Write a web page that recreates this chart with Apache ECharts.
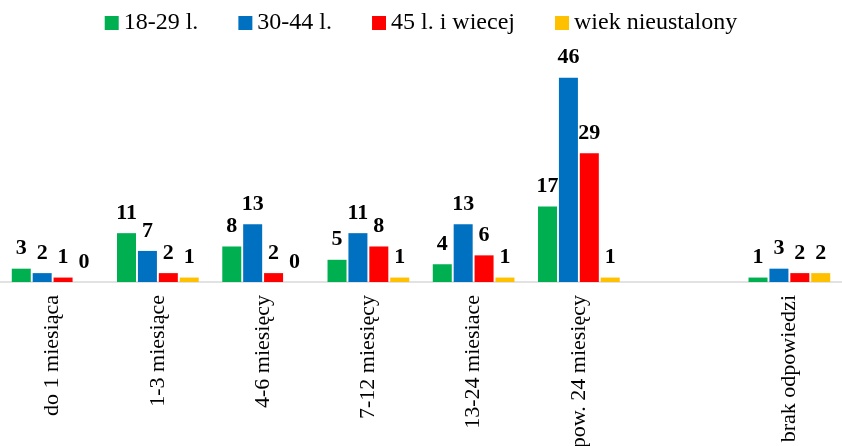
<!DOCTYPE html>
<html>
<head>
<meta charset="utf-8">
<script src="https://cdn.jsdelivr.net/npm/echarts@6/dist/echarts.min.js"></script>
<style>
	html, body { margin: 0; padding: 0; background: #fff; }
	#chartmain { width: 842px; height: 446px; }
</style>
</head>
<body>
<div id="chartmain"></div>
<script>
var categories = ['do 1 miesiąca', '1-3 miesiące', '4-6 miesięcy', '7-12 miesięcy', '13-24 miesiace', 'pow. 24 miesięcy', '', 'brak odpowiedzi'];
var names = ['18-29 l.', '30-44 l.', '45 l. i wiecej', 'wiek nieustalony'];
var colors = ['#00B050', '#0070C0', '#FF0000', '#FFC000'];
var age18_29 = [3, 11, 8, 5, 4, 17, '-', 1];
var age30_44 = [2, 7, 13, 11, 13, 46, '-', 3];
var age45plus = [1, 2, 2, 8, 6, 29, '-', 2];
var ageUnknown = [0, 1, 0, 1, 1, 1, '-', 2];

var font = 'Liberation Serif';
var seriesData = [age18_29, age30_44, age45plus, ageUnknown];
var series = [];
for (var i = 0; i < seriesData.length; i++) {
	series.push({
		name : names[i],
		type : 'bar',
		data : seriesData[i],
		barWidth : 19,
		barGap : '10%',
		itemStyle : { color : colors[i] },
		label : {
			show : true,
			position : 'top',
			distance : 9,
			color : '#000',
			fontFamily : font,
			fontWeight : 'bold',
			fontSize : 22
		}
	});
}

var option = {
	animation : false,
	color : colors,
	legend : {
		top : 6,
		left : 'center',
		itemWidth : 14,
		itemHeight : 14,
		itemGap : 40,
		icon : 'rect',
		textStyle : { fontFamily : font, fontSize : 24, color : '#000', padding : [0, 0, 0, 0] },
		data : names
	},
	grid : { left : 0, right : 0, top : 60, bottom : 164, containLabel : false, outerBoundsMode : 'none' },
	xAxis : {
		type : 'category',
		data : categories,
		axisLine : { lineStyle : { color : '#d9d9d9', width : 1.5 } },
		axisTick : { show : false },
		axisLabel : {
			rotate : 90,
			interval : 0,
			margin : 13,
			fontFamily : font,
			fontSize : 22,
			color : '#000'
		}
	},
	yAxis : {
		type : 'value',
		min : 0,
		max : 50,
		show : false
	},
	series : series
};

var myChart = echarts.init(document.getElementById('chartmain'));
myChart.setOption(option);
</script>
</body>
</html>
